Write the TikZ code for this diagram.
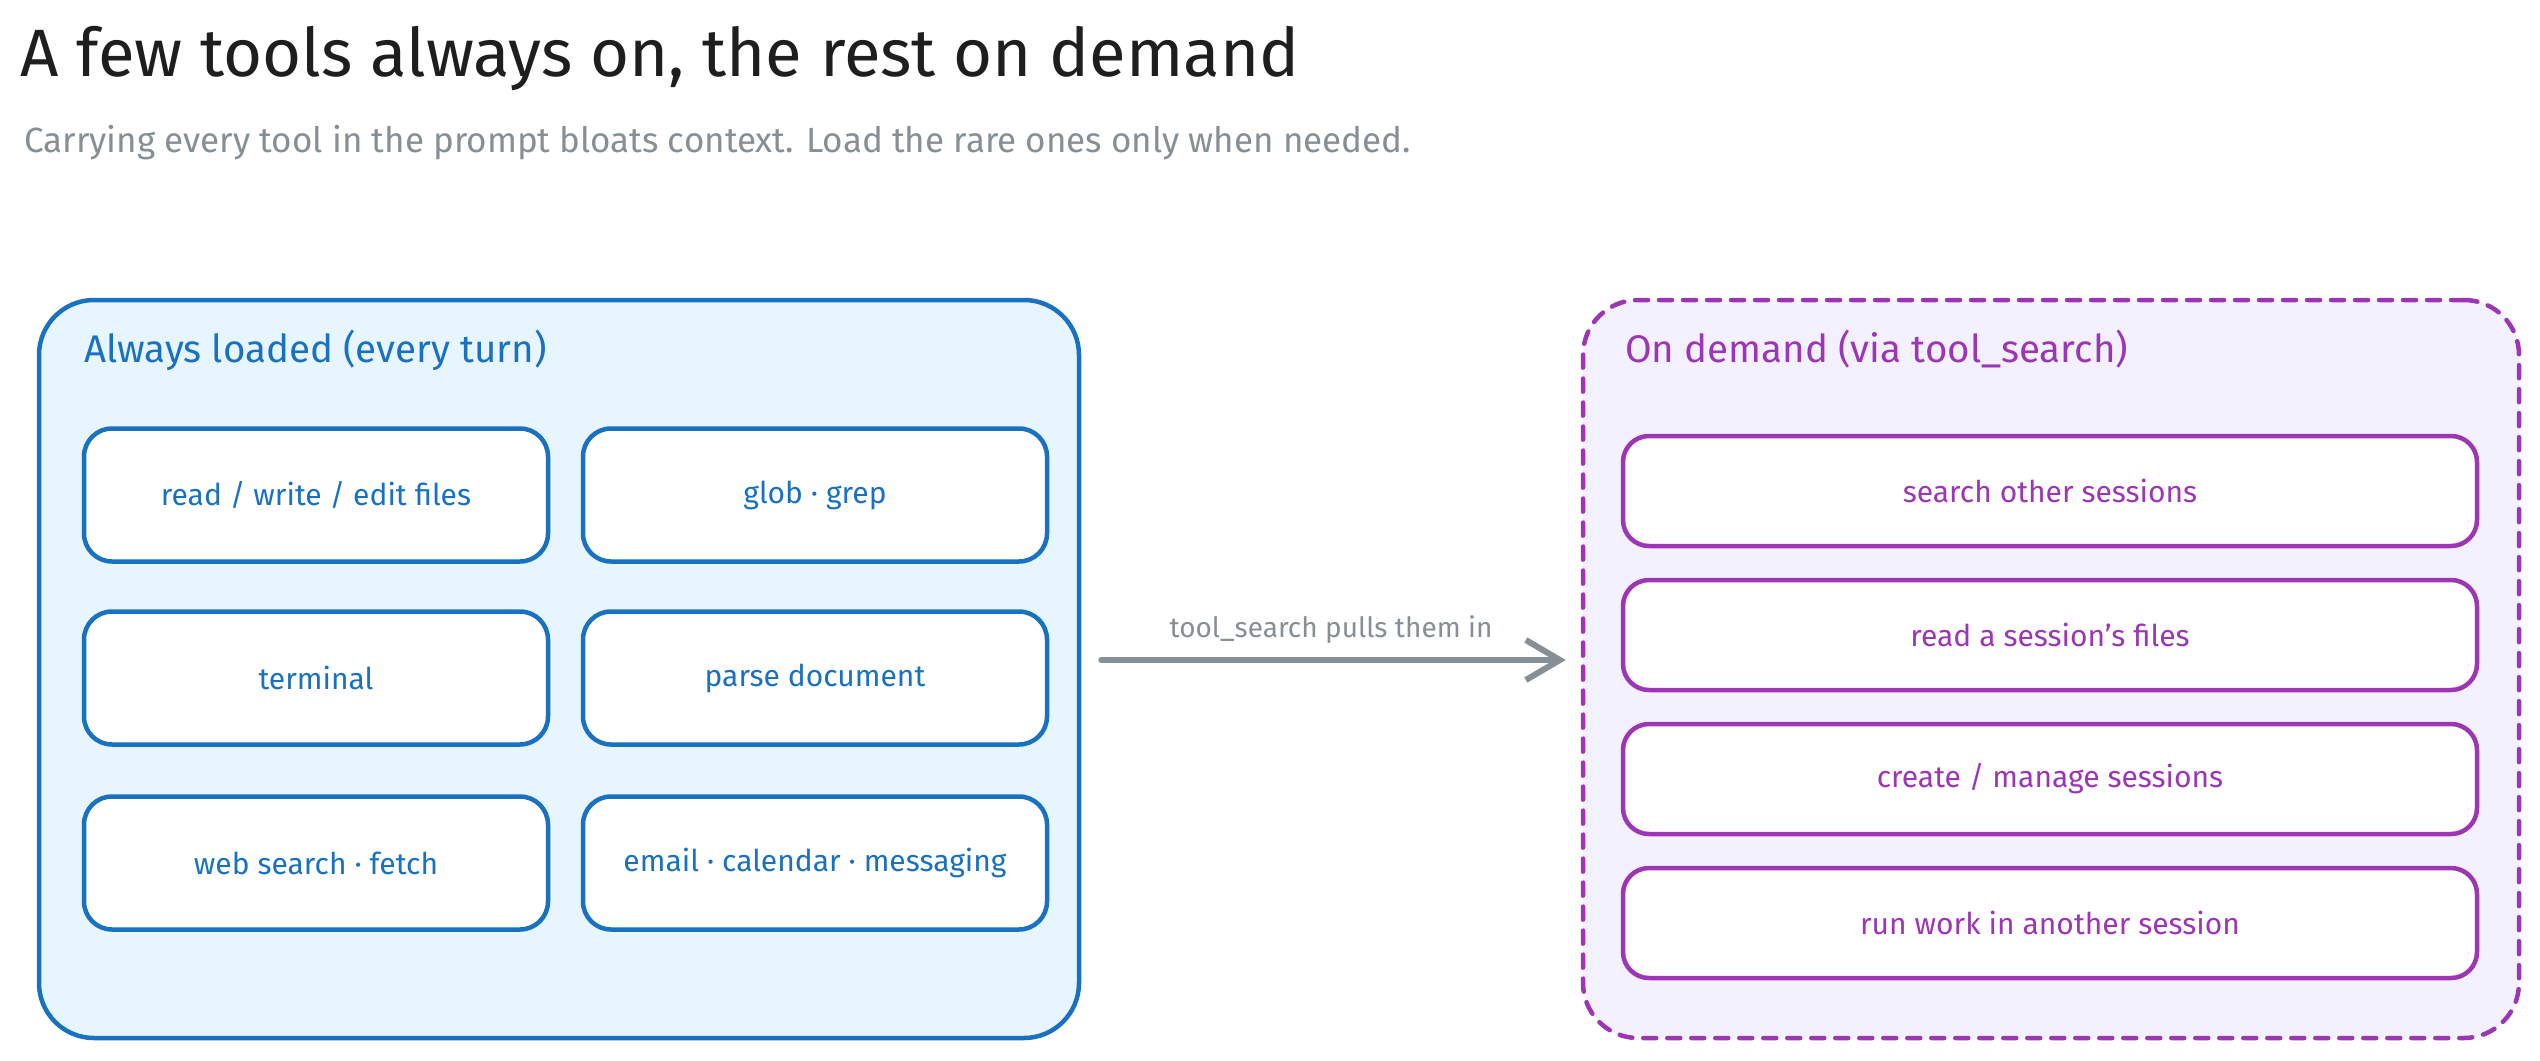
\documentclass[tikz,border=0pt]{standalone}
\usepackage{fontspec}
\setmainfont{Fira Sans}
\usetikzlibrary{arrows.meta}
\definecolor{ink}{HTML}{1E1E1E}
\definecolor{mute}{HTML}{868E96}
\definecolor{blu}{HTML}{1971C2}
\definecolor{bluf}{HTML}{E7F5FF}
\definecolor{pur}{HTML}{9C36B5}
\definecolor{purf}{HTML}{F3F0FF}
\tikzset{
  groupL/.style={draw=blu, fill=bluf, line width=4.5pt, rounded corners=55pt, minimum width=1040pt, minimum height=738pt, inner sep=0pt},
  groupR/.style={draw=pur, fill=purf, line width=4.5pt, dash pattern=on 13pt off 11pt, line cap=round, rounded corners=55pt, minimum width=936pt, minimum height=738pt, inner sep=0pt},
  grptitle/.style={anchor=base west, font=\fontsize{38.5}{44}\selectfont, inner sep=0pt},
  toolL/.style={draw=blu, fill=white, line width=4.5pt, rounded corners=28pt, minimum width=464pt, minimum height=133pt, text=blu, font=\fontsize{30}{36}\selectfont},
  toolR/.style={draw=pur, fill=white, line width=4.5pt, rounded corners=26pt, minimum width=854pt, minimum height=110pt, text=pur, font=\fontsize{30}{36}\selectfont},
  pull/.style={draw=mute, line width=6pt, line cap=round, -{Straight Barb[length=34pt,width=40pt]}},
}
\begin{document}
\begin{tikzpicture}[x=1pt,y=-1pt]
\useasboundingbox[fill=white] (0,0) rectangle (2540,1060);

\node[anchor=base west, text=ink, font=\fontsize{67}{76}\selectfont, inner sep=0pt] (title) at (20,76) {A few tools always on, the rest on demand};
\node[anchor=base west, text=mute, font=\fontsize{35}{42}\selectfont, inner sep=0pt] (sub) at (24,152) {Carrying every tool in the prompt bloats context. Load the rare ones only when needed.};

\node[groupL] (L) at (559,669) {};
\node[grptitle, text=blu] (Lt) at (84,362) {Always loaded (every turn)};
\node[toolL] (t1) at (316,495) {read / write / edit files};
\node[toolL] (t2) at (815,495) {glob · grep};
\node[toolL] (t3) at (316,678) {terminal};
\node[toolL] (t4) at (815,678) {parse document};
\node[toolL] (t5) at (316,863) {web search · fetch};
\node[toolL] (t6) at (815,863) {email · calendar · messaging};

\node[groupR] (R) at (2051,669) {};
\node[grptitle, text=pur] (Rt) at (1625,362) {On demand (via tool\_search)};
\node[toolR] (r1) at (2050,491) {search other sessions};
\node[toolR] (r2) at (2050,635) {read a session's files};
\node[toolR] (r3) at (2050,779) {create / manage sessions};
\node[toolR] (r4) at (2050,923) {run work in another session};

\draw[pull, shorten <=20pt, shorten >=15pt] ([yshift=9pt]L.east) -- node[above=10pt, text=mute, font=\fontsize{28}{34}\selectfont] (lab) {tool\_search pulls them in} ([yshift=9pt]R.west);
\end{tikzpicture}
\end{document}
